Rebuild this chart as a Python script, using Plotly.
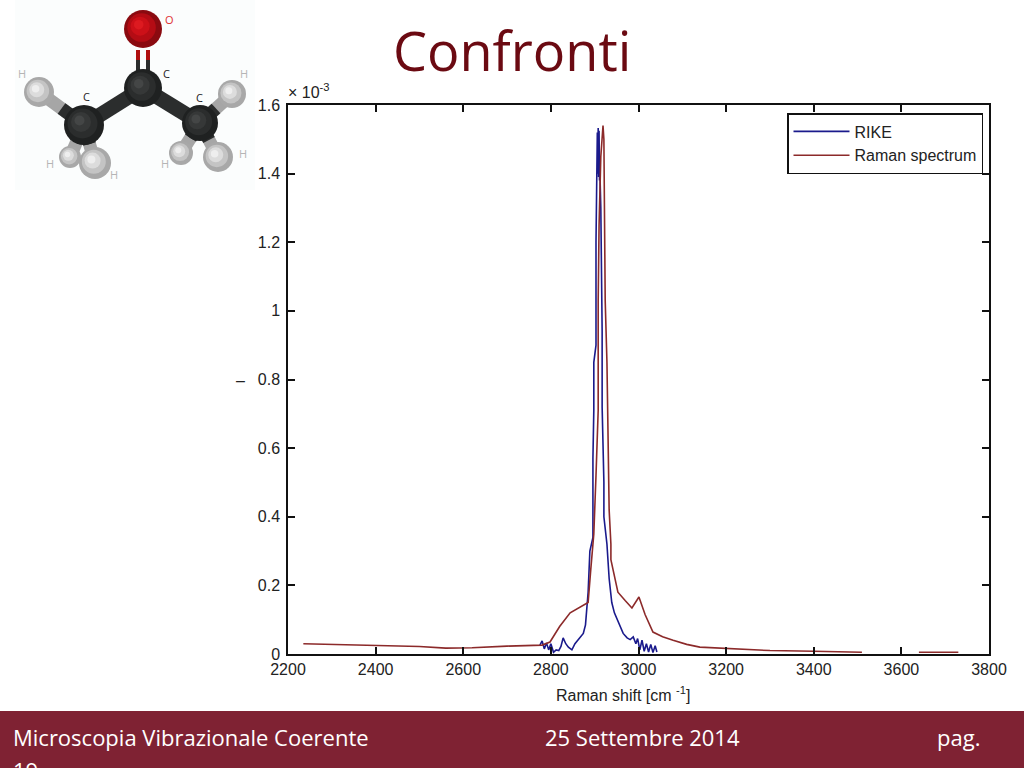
import plotly.graph_objects as go

# ---- data (values in units of 1e-3) ----
raman_x = [2235, 2300, 2400, 2500, 2560, 2620, 2700, 2780, 2798, 2820, 2844, 2865, 2885, 2891, 2898, 2903, 2905,
           2908, 2908, 2910, 2914, 2917, 2919, 2921, 2923, 2924, 2928, 2930, 2933, 2937, 2937, 2942, 2953, 2970, 2985, 3001, 3015, 3033, 3055,
           3079, 3110, 3140, 3200, 3260, 3300, 3400, 3510, None, 3640, 3730]
raman_y = [0.03, 0.028, 0.025, 0.022, 0.017, 0.018, 0.023, 0.026, 0.035, 0.08, 0.12, 0.135, 0.15, 0.245, 0.35, 0.52, 0.6,
           0.71, 1.03, 1.25, 1.45, 1.53, 1.54, 1.5, 1.3, 1.03, 0.85, 0.71, 0.42, 0.32, 0.275, 0.245, 0.18, 0.155, 0.134, 0.166, 0.115, 0.064, 0.05,
           0.04, 0.028, 0.02, 0.016, 0.012, 0.01, 0.008, 0.005, None, 0.005, 0.005]
rike_x = [2775, 2780, 2785, 2790, 2795, 2800, 2806, 2812, 2818, 2823, 2828, 2834, 2840, 2848, 2855, 2862, 2868, 2874,
          2879, 2883, 2885, 2889, 2896, 2896, 2898, 2898, 2903, 2903, 2905, 2906, 2907, 2908, 2909, 2910, 2911, 2912, 2914,
          2917, 2917, 2917, 2921, 2921, 2928, 2933, 2937, 2939, 2945, 2952, 2958, 2965, 2974, 2981, 2988, 2994, 2998,
          3003, 3008, 3013, 3018, 3023, 3028, 3033, 3038, 3042]
rike_y = [0.026, 0.038, 0.015, 0.032, 0.012, 0.03, 0.005, 0.012, 0.01, 0.022, 0.047, 0.03, 0.02, 0.012, 0.03, 0.042, 0.05, 0.06,
          0.085, 0.15, 0.18, 0.3, 0.34, 0.57, 0.71, 0.85, 0.9, 1.2, 1.38, 1.52, 1.4, 1.533, 1.39, 1.525, 1.38, 1.4, 1.3,
          1.02, 0.94, 0.72, 0.5, 0.4, 0.32, 0.22, 0.165, 0.15, 0.12, 0.1, 0.08, 0.06, 0.047, 0.042, 0.05, 0.03, 0.045,
          0.012, 0.04, 0.008, 0.03, 0.006, 0.028, 0.004, 0.024, 0.006]
series_names = ["RIKE", "Raman spectrum"]
x_ticks = [2200, 2400, 2600, 2800, 3000, 3200, 3400, 3600, 3800]
y_ticks = [0, 0.2, 0.4, 0.6, 0.8, 1, 1.2, 1.4, 1.6]
y_tick_labels = ["0", "0.2", "0.4", "0.6", "0.8", "1", "1.2", "1.4", "1.6"]

# ---- molecule illustration: x, y, radius in page pixels ----
atoms_h = [(39, 92, 15), (70, 157, 11), (95, 163, 16), (181, 153, 12), (218, 157, 15), (232, 94, 14)]
atoms_c = [(143, 88, 19), (84, 125, 20), (200, 123, 18)]
atom_o = (143, 29, 19)
bonds_ch = [((84, 125), (39, 92)), ((84, 125), (70, 157)), ((84, 125), (95, 163)),
            ((200, 123), (181, 153)), ((200, 123), (218, 157)), ((200, 123), (232, 94))]
bonds_cc = [((143, 88), (84, 125)), ((143, 88), (200, 123))]
atom_labels = [("O", 169, 19, "#e03030"), ("C", 166, 73, "#222222"), ("C", 86, 96, "#222222"), ("C", 199, 97, "#222222"),
               ("H", 22, 73, "#b5b5b5"), ("H", 244, 73, "#b5b5b5"), ("H", 50, 163, "#b5b5b5"), ("H", 114, 174, "#b5b5b5"),
               ("H", 165, 164, "#b5b5b5"), ("H", 243, 153, "#b5b5b5")]

W, H = 1024, 768
px = lambda v: v / W
py = lambda v: 1 - v / H

shapes = []


def rect(x0, y0, x1, y1, color):
    shapes.append(dict(type="rect", xref="paper", yref="paper", x0=px(x0), x1=px(x1), y0=py(y0), y1=py(y1),
                       fillcolor=color, line_width=0, layer="below"))


def line(a, b, color, width):
    shapes.append(dict(type="line", xref="paper", yref="paper", x0=px(a[0]), y0=py(a[1]), x1=px(b[0]), y1=py(b[1]),
                       line=dict(color=color, width=width), layer="above"))


def ball(x, y, r, colors):
    n = len(colors)
    for i, c in enumerate(colors):
        rr = r * (1 - i / n)
        ox, oy = -0.3 * (r - rr), -0.3 * (r - rr)
        shapes.append(dict(type="circle", xref="paper", yref="paper", x0=px(x + ox - rr), x1=px(x + ox + rr),
                           y0=py(y + oy + rr), y1=py(y + oy - rr), fillcolor=c, line_width=0, layer="above"))


rect(0, 711, W, H, "#7f2233")
rect(15, 0, 255, 190, "#fbfdfd")

for a, b in bonds_ch:
    line(a, b, "#a6a6a6", 13)
    mid = ((a[0] + b[0]) / 2, (a[1] + b[1]) / 2)
    line(a, mid, "#2b2d2d", 13)
for a, b in bonds_cc:
    line(a, b, "#2b2d2d", 15)
line((138, 50), (138, 72), "#b01010", 4)
line((148, 50), (148, 72), "#b01010", 4)
line((138, 60), (138, 74), "#2b2d2d", 4)
line((148, 60), (148, 74), "#2b2d2d", 4)
for x, y, r in atoms_h:
    ball(x, y, r, ["#a8a8a8", "#c4c4c4", "#dcdcdc", "#eeeeee"])
for x, y, r in atoms_c:
    ball(x, y, r, ["#1f2121", "#2b2d2d", "#363838", "#444646"])
ball(*atom_o, ["#8a0a10", "#b40c14", "#cc1018", "#dd1a20"])

annotations = [
    dict(text="Confronti", x=px(512), y=py(50), font=dict(size=54, color="#6b0a12", family="Open Sans")),
    dict(text="\u00d7 10<sup>-3</sup>", x=px(286), y=py(91), xanchor="left",
         font=dict(size=16, color="#222222", family="Liberation Sans")),
    dict(text="\u2013", x=px(240), y=py(380), font=dict(size=16, color="#222222", family="Liberation Sans")),
    dict(text="Raman shift [cm <sup>-1</sup>]", x=px(623), y=py(694),
         font=dict(size=16, color="#222222", family="Liberation Sans")),
    dict(text="Microscopia Vibrazionale Coerente", x=px(11), y=py(737), xanchor="left",
         font=dict(size=22, color="white", family="Open Sans")),
    dict(text="25 Settembre 2014", x=px(543), y=py(737), xanchor="left",
         font=dict(size=22, color="white", family="Open Sans")),
    dict(text="pag.", x=px(935), y=py(737), xanchor="left",
         font=dict(size=22, color="white", family="Open Sans")),
    dict(text="19", x=px(11), y=py(770), xanchor="left",
         font=dict(size=22, color="white", family="Open Sans")),
]
for t, x, y, c in atom_labels:
    annotations.append(dict(text=t, x=px(x), y=py(y), font=dict(size=11, color=c, family="Open Sans")))
for a in annotations:
    a.update(xref="paper", yref="paper", showarrow=False)
    a.setdefault("xanchor", "center")
    a.setdefault("yanchor", "middle")

fig = go.Figure()
fig.add_trace(go.Scatter(x=rike_x, y=rike_y, name=series_names[0], mode="lines", legendgroup="a",
                         line=dict(color="#1a1a8c", width=1.6)))
fig.add_trace(go.Scatter(x=raman_x, y=raman_y, name=series_names[1], mode="lines", legendgroup="b",
                         line=dict(color="#8c2a2a", width=1.6)))

axis_font = dict(size=16, color="#222222", family="Liberation Sans")
fig.update_layout(
    width=W, height=H, margin=dict(l=0, r=0, t=0, b=0, autoexpand=False),
    paper_bgcolor="white", plot_bgcolor="white",
    shapes=shapes, annotations=annotations,
    font=dict(family="Liberation Sans", color="#222222"),
    legend=dict(x=983 / W, y=py(113), xanchor="right", yanchor="top", bgcolor="white",
                bordercolor="#111111", borderwidth=1.5, itemwidth=56, traceorder="grouped", tracegroupgap=0,
                font=dict(size=16, color="#222222", family="Liberation Sans")),
    xaxis=dict(domain=[px(288), px(989)], range=[2200, 3800], tickvals=x_ticks, ticks="inside", ticklen=7, tickwidth=1.5,
               tickcolor="#111111", linecolor="#111111", linewidth=1.5, mirror="allticks", showgrid=False, zeroline=False,
               tickfont=axis_font),
    yaxis=dict(domain=[py(654), py(105)], range=[0, 1.6], tickvals=y_ticks, ticktext=y_tick_labels, ticks="inside",
               ticklen=7, tickwidth=1.5, tickcolor="#111111", linecolor="#111111", linewidth=1.5, mirror="allticks",
               showgrid=False, zeroline=False, tickfont=axis_font, ticklabelstandoff=3),
)

fig.write_html("out.html", config=dict(displayModeBar=False), post_script="document.body.style.margin='0';")
